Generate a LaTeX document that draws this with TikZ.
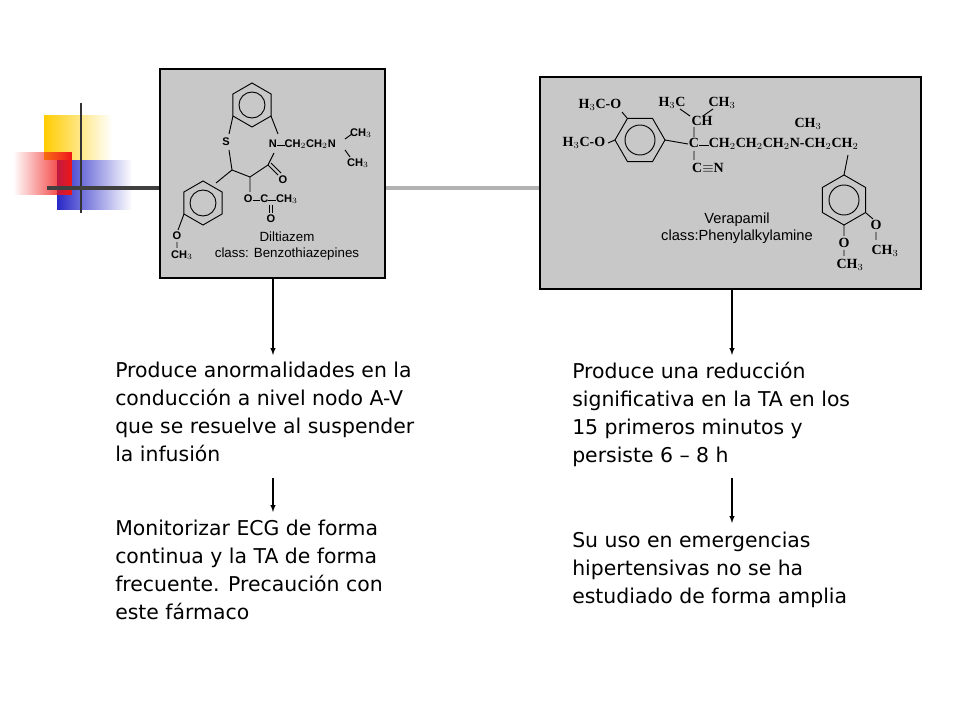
\documentclass[tikz,border=0pt]{standalone}
\usepackage{fontspec}
\setmainfont{DejaVu Sans}
\newfontfamily\chemsans{Liberation Sans}
\newfontfamily\chemserif{Liberation Serif}
\usetikzlibrary{positioning,fadings}
\definecolor{boxgray}{RGB}{200,200,200}
\definecolor{decoyellow}{RGB}{255,204,0}
\definecolor{decored}{RGB}{240,20,20}
\definecolor{decoblue}{RGB}{40,40,200}
\tikzset{
  molbox/.style={draw=black, line width=2.2pt, fill=boxgray},
  bodytext/.style={anchor=north west, align=left, inner sep=0pt, font=\fontsize{15.3}{21}\selectfont},
  flow/.style={-latex, line width=0.8pt},
  atl/.style={inner sep=0.5pt, font=\chemsans\bfseries\fontsize{8.3}{9}\selectfont},
  atr/.style={inner sep=0.5pt, font=\chemserif\bfseries\fontsize{10.5}{10}\selectfont},
  bond/.style={line width=0.7pt}
}
\newcommand{\bnd}{\rule[0.3ex]{0.7em}{0.5pt}}
\begin{document}
\begin{tikzpicture}[x=0.75pt, y=-0.75pt]
  \useasboundingbox (0,0) rectangle (960,720);
  % Decoration
  \fill[decoyellow, path fading=east] (44,115) rectangle (112,160);
  \fill[decoblue, path fading=east] (57,160) rectangle (132,210);
  \fill[decored, path fading=west] (13,152) rectangle (72,195);
  \draw[line width=2pt, black!80] (81,103) -- (81,213);
  \draw[line width=2.5pt, black!75] (47,188) -- (160,188);
  \draw[line width=2.5pt, black!30] (385,188) -- (540,188);

  % Boxes
  \draw[molbox] (160,69) rectangle (385,278);
  \draw[molbox] (540,77) rectangle (921,289);

  % Diltiazem
  \draw[bond] (252,105) +(30:22) -- +(90:22) -- +(150:22) -- +(210:22) -- +(270:22) -- +(330:22) -- cycle;
  \draw[bond] (252,105) circle (13);
  \draw[bond] (271,116) -- (278,134) (233,116) -- (229,134) (229,150) -- (232,170)
        -- (250,177) -- (268,165) -- (274,153) (250,177) -- (250,192) (232,170) -- (216,183);
  \draw[bond] (268,165) -- (278,175) (271,163) -- (281,173);
  \node[atl] (sA) at (226,142) {S};
  \node[atl, anchor=west] (nA) at (268,144) {N\bnd CH$_2$CH$_2$N};
  \node[atl] (me1) at (361,133) {CH$_3$};
  \node[atl] (me2) at (358,163) {CH$_3$};
  \draw[bond] (345,139) -- (352,134) (345,150) -- (350,157);
  \node[atl] (oA) at (283,180) {O};
  \node[atl, anchor=west] (est) at (243,199) {O\bnd C\bnd CH$_3$};
  \node[atl] (oB) at (271,219) {O};
  \draw[bond] (269.5,205) -- (269.5,213) (272.5,205) -- (272.5,213);
  \draw[bond] (203,203) +(30:22) -- +(90:22) -- +(150:22) -- +(210:22) -- +(270:22) -- +(330:22) -- cycle;
  \draw[bond] (203,203) circle (13);
  \draw[bond] (184,214) -- (178,230) (177,242) -- (177,248);
  \node[atl] (oC) at (177,236) {O};
  \node[atl] (meC) at (182,255) {CH$_3$};
  \node[font=\chemsans\fontsize{10}{12}\selectfont, align=center] (dilt) at (287,246) {Diltiazem\\class: Benzothiazepines};

  % Verapamil
  \draw[bond] (640,140) +(0:25) -- +(60:25) -- +(120:25) -- +(180:25) -- +(240:25) -- +(300:25) -- cycle;
  \draw[bond] (640,140) circle (15);
  \draw[bond] (627,118) -- (622,112) (615,140) -- (608,143) (665,140) -- (688,144) (694,127) -- (694,137)
        (694,151) -- (694,160) (680,109) -- (690,116) (713,109) -- (703,116);
  \node[atr] (oa) at (600,105) {H$_3$C-O};
  \node[atr] (ob) at (584,143) {H$_3$C-O};
  \node[atr] (ipa) at (672,103) {H$_3$C};
  \node[atr] (ipb) at (722,103) {CH$_3$};
  \node[atr] (ipc) at (702,121) {CH};
  \node[atr, anchor=west] (chain) at (688,144) {C\bnd CH$_2$CH$_2$CH$_2$N-CH$_2$CH$_2$};
  \node[atr] (nme) at (808,124) {CH$_3$};
  \node[atr] (cn) at (708,168) {C$\equiv$N};
  \draw[bond] (844,200) +(30:25) -- +(90:25) -- +(150:25) -- +(210:25) -- +(270:25) -- +(330:25) -- cycle;
  \draw[bond] (844,200) circle (15);
  \draw[bond] (844,175) -- (848,155) (866,213) -- (873,219) (844,225) -- (844,236) (844,250) -- (844,256) (876,232) -- (876,240);
  \node[atr] (oc) at (876,225) {O};
  \node[atr] (od) at (844,243) {O};
  \node[atr] (mc) at (885,251) {CH$_3$};
  \node[atr] (md) at (850,265) {CH$_3$};
  \node[font=\chemsans\fontsize{11}{13}\selectfont, align=center] (vera) at (737,228) {Verapamil\\class:Phenylalkylamine};

  % Text blocks
  \node[bodytext] (t1) at (115,362) {Produce anormalidades en la\\conducción a nivel nodo A-V\\que se resuelve al suspender\\la infusión};
  \node[bodytext] (t2) at (115,520) {Monitorizar ECG de forma\\continua y la TA de forma\\frecuente. Precaución con\\este fármaco};
  \node[bodytext] (t3) at (572,362) {Produce una reducción\\significativa en la TA en los\\15 primeros minutos y\\persiste 6 -- 8 h};
  \node[bodytext] (t4) at (572,532) {Su uso en emergencias\\hipertensivas no se ha\\estudiado de forma amplia};

  % Arrows
  \coordinate (a1) at (273,278); \coordinate (a1e) at (273,355);
  \coordinate (a2) at (273,478); \coordinate (a2e) at (273,512);
  \coordinate (b1) at (732,289); \coordinate (b1e) at (732,355);
  \coordinate (b2) at (732,478); \coordinate (b2e) at (732,523);
  \draw[flow] (a1) -- (a1e);
  \draw[flow] (a2) -- (a2e);
  \draw[flow] (b1) -- (b1e);
  \draw[flow] (b2) -- (b2e);
\end{tikzpicture}
\end{document}
